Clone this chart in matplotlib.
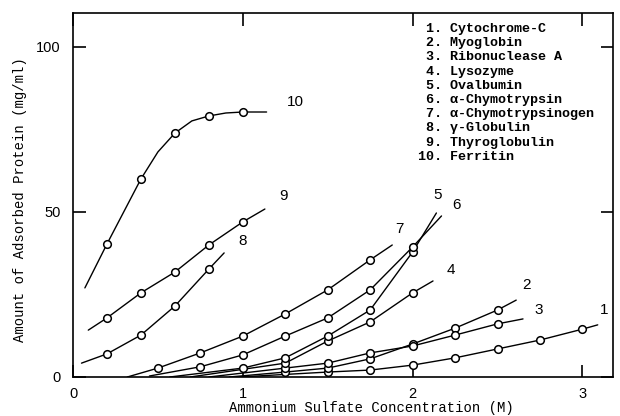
import matplotlib
matplotlib.use("Agg")
import matplotlib.pyplot as plt

# ---------------- data ----------------
legend_names = ["Cytochrome-C", "Myoglobin", "Ribonuclease A", "Lysozyme",
                "Ovalbumin", "\u03b1-Chymotrypsin", "\u03b1-Chymotrypsinogen",
                "\u03b3-Globulin", "Thyroglobulin", "Ferritin"]

# marker points (x: M ammonium sulfate, y: mg/ml)
c1_x = [1.5, 1.75, 2.0, 2.25, 2.5, 2.75, 3.0]
c1_y = [1.5, 2.1, 3.6, 5.8, 8.5, 11.2, 14.5]
c2_x = [1.25, 1.5, 1.75, 2.0, 2.25, 2.5]
c2_y = [1.5, 2.7, 5.5, 10.0, 14.8, 20.3]
c3_x = [1.25, 1.5, 1.75, 2.0, 2.25, 2.5]
c3_y = [2.7, 4.2, 7.3, 9.4, 12.7, 16.1]
c4_x = [1.25, 1.5, 1.75, 2.0]
c4_y = [4.2, 10.9, 16.7, 25.5]
c5_x = [1.0, 1.25, 1.5, 1.75, 2.0]
c5_y = [2.7, 5.8, 12.4, 20.3, 37.9]
c6_x = [0.75, 1.0, 1.25, 1.5, 1.75, 2.0]
c6_y = [3.1, 6.7, 12.4, 17.9, 26.4, 39.4]
c7_x = [0.5, 0.75, 1.0, 1.25, 1.5, 1.75]
c7_y = [2.7, 7.3, 12.4, 19.1, 26.4, 35.5]
c8_x = [0.2, 0.4, 0.6, 0.8]
c8_y = [7.0, 12.7, 21.5, 32.7]
c9_x = [0.2, 0.4, 0.6, 0.8, 1.0]
c9_y = [17.9, 25.5, 31.8, 40.0, 47.0]
c10_x = [0.2, 0.4, 0.6, 0.8, 1.0]
c10_y = [40.3, 60.0, 73.9, 79.1, 80.3]

# extra unmarked points read along the drawn line of curve 10
c10_line_x = [0.07, 0.2, 0.4, 0.5, 0.6, 0.7, 0.8, 0.9, 1.0, 1.14]
c10_line_y = [27.0, 40.3, 60.0, 68.2, 73.9, 77.6, 79.1, 80.0, 80.3, 80.3]

# unmarked start / end of each drawn line
line_start = [(0.98, 0.0), (0.92, 0.0), (0.80, 0.0), (0.69, 0.0), (0.57, 0.0),
              (0.45, 0.3), (0.32, 0.0), (0.05, 4.2), (0.09, 14.2), (0.07, 27.0)]
line_end = [(3.09, 15.8), (2.61, 23.3), (2.65, 17.6), (2.12, 29.1), (2.14, 49.7),
            (2.17, 48.8), (1.88, 40.0), (0.89, 37.6), (1.13, 50.9), (1.14, 80.3)]

curve_labels = ["1", "2", "3", "4", "5", "6", "7", "8", "9", "10"]

x_ticks = [0, 1, 2, 3]
y_ticks = [0, 50, 100]

# ---------------- layout / style ----------------
label_offsets = [(2, 8), (6, 8), (11, 2), (14, 4), (-3, 11),
                 (11, 4), (3, 9), (14, 5), (14, 6), (20, 3)]

series_x = [c1_x, c2_x, c3_x, c4_x, c5_x, c6_x, c7_x, c8_x, c9_x, c10_x]
series_y = [c1_y, c2_y, c3_y, c4_y, c5_y, c6_y, c7_y, c8_y, c9_y, c10_y]

num_font = ["Liberation Sans Narrow", "Liberation Sans", "DejaVu Sans"]
mono_font = ["Liberation Mono", "DejaVu Sans Mono"]

fig = plt.figure(figsize=(6.2, 4.16), dpi=100)
ax = fig.add_axes([73 / 620, 1 - 377 / 416, 540 / 620, 364 / 416])
ax.set_xlim(0, 3.18)
ax.set_ylim(0, 110.3)

for xs, ys, st, en, lab, off in zip(series_x, series_y, line_start, line_end,
                                    curve_labels, label_offsets):
    if lab == "10":
        px, py = c10_line_x, c10_line_y
    else:
        px = [st[0]] + list(xs) + [en[0]]
        py = [st[1]] + list(ys) + [en[1]]
    ax.plot(px, py, color="black", lw=1.0, solid_capstyle="round")
    ax.plot(xs, ys, linestyle="none", marker="o", markersize=5.5,
            markerfacecolor="white", markeredgecolor="black",
            markeredgewidth=1.1, zorder=3)
    ax.annotate(lab, xy=en, xytext=off, textcoords="offset pixels",
                fontsize=11, family=num_font, ha="left", va="bottom")

for s in ax.spines.values():
    s.set_linewidth(1.2)

ax.set_xticks(x_ticks)
ax.set_yticks(y_ticks)
ax.set_xticklabels([str(v) for v in x_ticks], family=num_font, fontsize=10.5)
ax.set_yticklabels([str(v) for v in y_ticks], family=num_font, fontsize=10.5)
ax.tick_params(direction="in", length=9, width=1.2, top=True, right=True,
               labeltop=False, labelright=False)
ax.tick_params(axis="x", pad=7)
ax.tick_params(axis="y", pad=9)

ax.set_xlabel("Ammonium Sulfate Concentration (M)", family=mono_font,
              fontsize=10)
ax.set_ylabel("Amount of Adsorbed Protein (mg/ml)", family=mono_font,
              fontsize=10)
ax.xaxis.set_label_coords(0.553, -0.066)
ax.yaxis.set_label_coords(-0.085, 0.486)

# legend text block (numbered list)
for i, name in enumerate(legend_names):
    fig.text(418 / 620, 1 - (29 + i * 14.2) / 416, f"{i + 1:>2}. {name}",
             family=mono_font, fontsize=9.6, fontweight="bold",
             ha="left", va="center")

fig.savefig("out.png", dpi=100)
